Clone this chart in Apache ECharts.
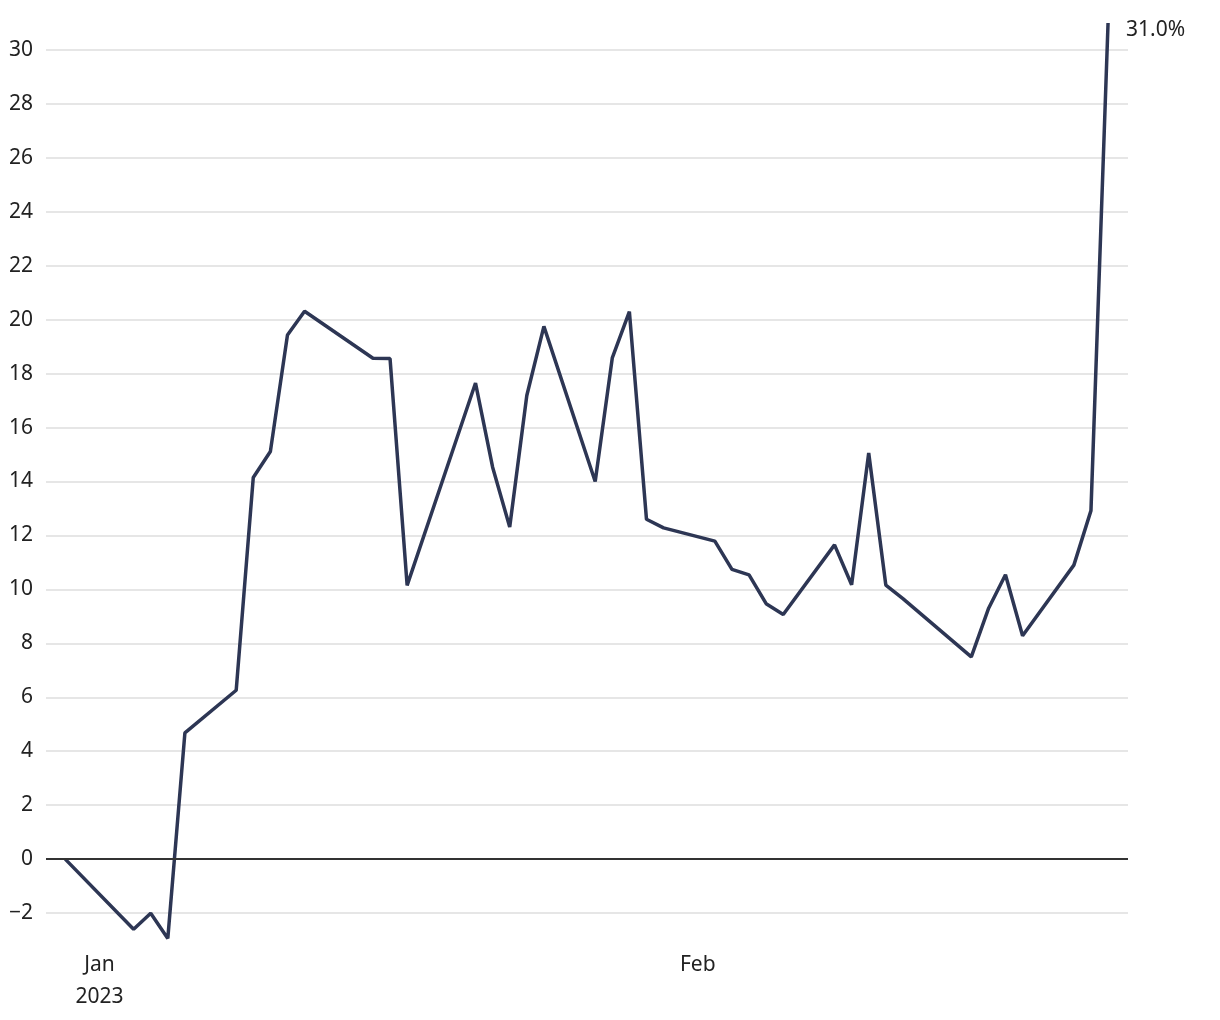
<!DOCTYPE html>
<html>
<head>
<meta charset="utf-8">
<script src="https://cdn.jsdelivr.net/npm/echarts@6/dist/echarts.min.js"></script>
<style>
  html, body { margin: 0; padding: 0; background: #fff; }
  #main { width: 1220px; height: 1020px; }
</style>
</head>
<body>
<div id="main"></div>
<script>
  // trading days, Dec 30 2022 .. Mar 1 2023
  var dates = [
    '2022-12-30', '2023-01-03', '2023-01-04', '2023-01-05', '2023-01-06',
    '2023-01-09', '2023-01-10', '2023-01-11', '2023-01-12', '2023-01-13',
    '2023-01-17', '2023-01-18', '2023-01-19', '2023-01-23', '2023-01-24',
    '2023-01-25', '2023-01-26', '2023-01-27', '2023-01-30', '2023-01-31',
    '2023-02-01', '2023-02-02', '2023-02-03', '2023-02-06', '2023-02-07',
    '2023-02-08', '2023-02-09', '2023-02-10', '2023-02-13', '2023-02-14',
    '2023-02-15', '2023-02-16', '2023-02-17', '2023-02-21', '2023-02-22',
    '2023-02-23', '2023-02-24', '2023-02-27', '2023-02-28', '2023-03-01'
  ];
  // cumulative change, %
  var values = [
    0, -2.60, -2.01, -2.94, 4.68,
    6.26, 14.15, 15.11, 19.43, 20.31,
    18.57, 18.56, 10.15, 17.65, 14.53,
    12.31, 17.19, 19.75, 14.0, 18.58,
    20.30, 12.60, 12.28, 11.79, 10.74,
    10.54, 9.47, 9.07, 11.65, 10.17,
    15.06, 10.16, 9.66, 7.50, 9.28,
    10.54, 8.28, 10.90, 12.92, 31.0
  ];
  // x tick labels (weekly ticks, labelled at month change)
  var xTickDates = ['2023-01-01', '2023-02-05'];
  var xTickLabels = ['Jan\n2023', 'Feb'];

  // days counted from the first date
  function dayNum(s) {
    var p = s.split('-');
    var t = Date.UTC(+p[0], +p[1] - 1, +p[2]);
    return Math.round((t - Date.UTC(2022, 11, 30)) / 864e5);
  }
  var xTicks = xTickDates.map(dayNum);

  var myChart = echarts.init(document.getElementById('main'));
  var option = {
    animation: false,
    grid: {
      left: 46,
      right: 92,
      top: 9.5,
      bottom: 53
    },
    xAxis: {
      type: 'value',
      min: -1.125,
      max: 62.167,
      axisLine: { show: false },
      axisTick: { show: false },
      splitLine: { show: false },
      axisLabel: {
        customValues: xTicks,
        margin: -18,
        fontFamily: 'Noto Sans',
        fontSize: 21,
        lineHeight: 32,
        color: '#222',
        formatter: function (val) {
          var i = xTicks.indexOf(Math.round(val));
          return i >= 0 ? xTickLabels[i] : '';
        }
      }
    },
    yAxis: {
      type: 'value',
      min: -4,
      max: 31.5,
      interval: 2,
      axisLine: { show: false },
      axisTick: { show: false },
      axisLabel: {
        margin: 13,
        showMinLabel: false,
        showMaxLabel: false,
        fontFamily: 'Noto Sans',
        fontSize: 21,
        color: '#222',
        formatter: function (v) {
          return v < 0 ? '\u2212' + Math.abs(v) : String(v);
        }
      },
      splitLine: {
        showMinLine: false,
        showMaxLine: false,
        lineStyle: { color: '#e6e6e6', width: 2 }
      }
    },
    series: [{
      type: 'line',
      data: dates.map(function (d, i) { return [dayNum(d), values[i]]; }),
      symbol: 'none',
      lineStyle: { color: '#2d3654', width: 3.5 },
      itemStyle: { color: '#2d3654' },
      endLabel: {
        show: true,
        distance: 18,
        offset: [0, 7],
        fontFamily: 'Noto Sans',
        fontSize: 21,
        color: '#222',
        formatter: function (p) {
          return p.value[1].toFixed(1) + '%';
        }
      },
      markLine: {
        silent: true,
        symbol: 'none',
        label: { show: false },
        lineStyle: { color: '#333', width: 2, type: 'solid' },
        data: [{ yAxis: 0 }]
      }
    }]
  };
  myChart.setOption(option);
</script>
</body>
</html>
